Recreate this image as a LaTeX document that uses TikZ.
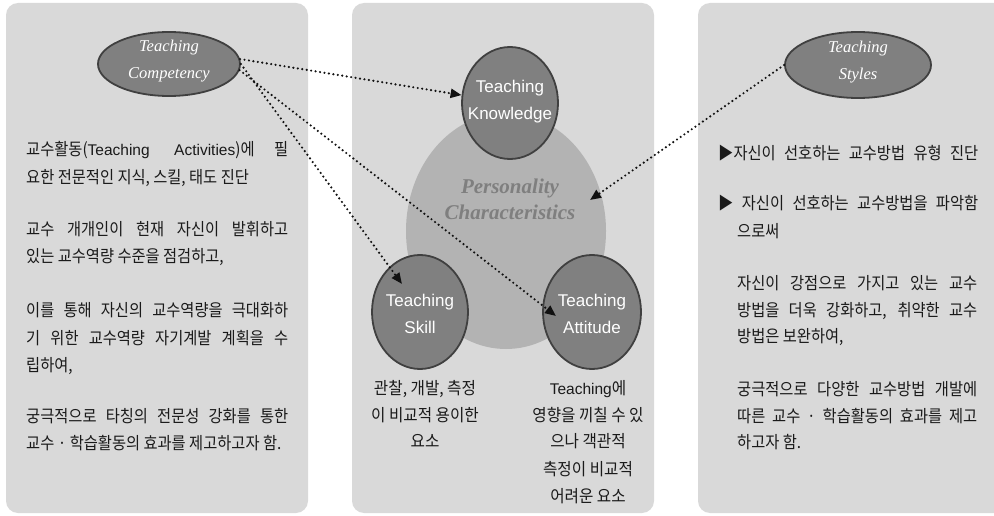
\documentclass[tikz,border=0pt]{standalone}
\usepackage{fontspec}
\setmainfont{Liberation Serif}
\newfontfamily\kr[FakeStretch=0.9]{Noto Sans CJK KR}
\newfontfamily\krm[FakeStretch=0.92]{Noto Sans CJK KR}
\newfontfamily\lat{Liberation Sans}
\usetikzlibrary{arrows.meta,shapes.geometric}
\definecolor{panelgray}{HTML}{D9D9D9}
\definecolor{ovalfill}{HTML}{808080}
\definecolor{ovalborder}{HTML}{404040}
\definecolor{persfill}{HTML}{B3B3B3}
\definecolor{perstext}{HTML}{7F7F7F}
\definecolor{textcol}{HTML}{1A1A1A}
\definecolor{arrowcol}{HTML}{111111}
\begin{document}
\begin{tikzpicture}[x=1pt,y=-1pt,
  panel/.style={fill=panelgray, rounded corners=12pt},
  oval/.style={ellipse, draw=ovalborder, line width=1.8pt, fill=ovalfill, inner sep=0pt},
  ovaltext/.style={align=center, text=white, inner sep=0pt, font=\itshape\fontsize{16.5}{27}\selectfont},
  circtext/.style={align=center, text=white, inner sep=0pt, font=\lat\fontsize{17}{27}\selectfont},
  txt/.style={anchor=base west, inner sep=0pt, text=textcol, font=\kr\fontsize{17}{20}\selectfont},
  mtxt/.style={anchor=base, inner sep=0pt, text=textcol, font=\krm\fontsize{17}{20}\selectfont},
  dotarrow/.style={draw=arrowcol, line width=2.4pt, line cap=round, dash pattern=on 0pt off 4.5pt, -{Triangle[length=11pt,width=9pt]}}
]
\useasboundingbox (0,0) rectangle (994,516);
\clip (0,0) rectangle (994,516);

% panels
\path[panel] (6,3) rectangle (308,513);
\path[panel] (352,3) rectangle (654,513);
\path[panel] (698,3) rectangle (1012,513);

% personality
\node[ellipse, fill=persfill, minimum width=200pt, minimum height=236pt, inner sep=0pt] (pers) at (506,231) {};
\node[font=\bfseries\itshape\fontsize{21}{26}\selectfont, text=perstext, align=center, inner sep=0pt] (perstxt) at (510,199) {Personality\\Characteristics};

% ovals
\node[oval, minimum width=142pt, minimum height=64pt] (comp) at (169,64) {};
\node[ovaltext] (compT) at (169,61) {Teaching\\Competency};
\node[oval, minimum width=146pt, minimum height=66pt] (styl) at (858,65) {};
\node[ovaltext] (stylT) at (858,62) {Teaching\\Styles};

\node[oval, minimum width=96pt, minimum height=112pt] (know) at (510,103) {};
\node[circtext] (knowT) at (510,102) {Teaching\\Knowledge};
\node[oval, minimum width=96pt, minimum height=114pt] (skill) at (420,312) {};
\node[circtext] (skillT) at (420,314) {Teaching\\Skill};
\node[oval, minimum width=98pt, minimum height=114pt] (att) at (592,312) {};
\node[circtext] (attT) at (592,314) {Teaching\\Attitude};

% left text
\node[txt] (l1) at (26,156) {\makebox[262pt][s]{교수활동({\lat\fontsize{15.5}{18}\selectfont Teaching Activities})에 필}};
\node[txt] (l2) at (26,183) {요한 전문적인 지식, 스킬, 태도 진단};
\node[txt] (l3) at (26,235) {\makebox[262pt][s]{교수 개개인이 현재 자신이 발휘하고}};
\node[txt] (l4) at (26,262) {있는 교수역량 수준을 점검하고,};
\node[txt] (l5) at (26,316) {\makebox[262pt][s]{이를 통해 자신의 교수역량을 극대화하}};
\node[txt] (l6) at (26,344) {\makebox[262pt][s]{기 위한 교수역량 자기계발 계획을 수}};
\node[txt] (l7) at (26,371) {립하여,};
\node[txt] (l8) at (26,422) {\makebox[262pt][s]{궁극적으로 타칭의 전문성 강화를 통한}};
\node[txt] (l9) at (26,449) {교수 · 학습활동의 효과를 제고하고자 함.};

% middle text
\node[mtxt] (m1) at (425,394) {관찰, 개발, 측정};
\node[mtxt] (m2) at (425,421) {이 비교적 용이한};
\node[mtxt] (m3) at (425,447) {요소};
\node[mtxt] (n1) at (588,394) {{\lat\fontsize{15.5}{18}\selectfont Teaching}에};
\node[mtxt] (n2) at (588,421) {영향을 끼칠 수 있};
\node[mtxt] (n3) at (588,447) {으나 객관적};
\node[mtxt] (n4) at (588,475) {측정이 비교적};
\node[mtxt] (n5) at (588,502) {어려운 요소};

% right text
\node[txt] (r1) at (718,160) {\makebox[260pt][s]{▶자신이 선호하는 교수방법 유형 진단}};
\node[txt] (r2) at (718,210) {\makebox[260pt][s]{▶ 자신이 선호하는 교수방법을 파악함}};
\node[txt] (r3) at (737,237) {으로써};
\node[txt] (r4) at (737,289) {\makebox[240pt][s]{자신이 강점으로 가지고 있는 교수}};
\node[txt] (r5) at (737,316) {\makebox[240pt][s]{방법을 더욱 강화하고, 취약한 교수}};
\node[txt] (r6) at (737,342) {방법은 보완하여,};
\node[txt] (r7) at (737,395) {\makebox[240pt][s]{궁극적으로 다양한 교수방법 개발에}};
\node[txt] (r8) at (737,422) {\makebox[240pt][s]{따른 교수 · 학습활동의 효과를 제고}};
\node[txt] (r9) at (737,448) {하고자 함.};

% arrows
\coordinate (skillTip) at (402,284);
\coordinate (attTip) at (556,316);
\coordinate (persTip) at (590,200);
\draw[dotarrow] (comp.4) -- (know);
\draw[dotarrow] (comp.0) -- (skillTip);
\draw[dotarrow] (comp.-5) -- (attTip);
\draw[dotarrow] (styl.west) -- (persTip);
\end{tikzpicture}
\end{document}
